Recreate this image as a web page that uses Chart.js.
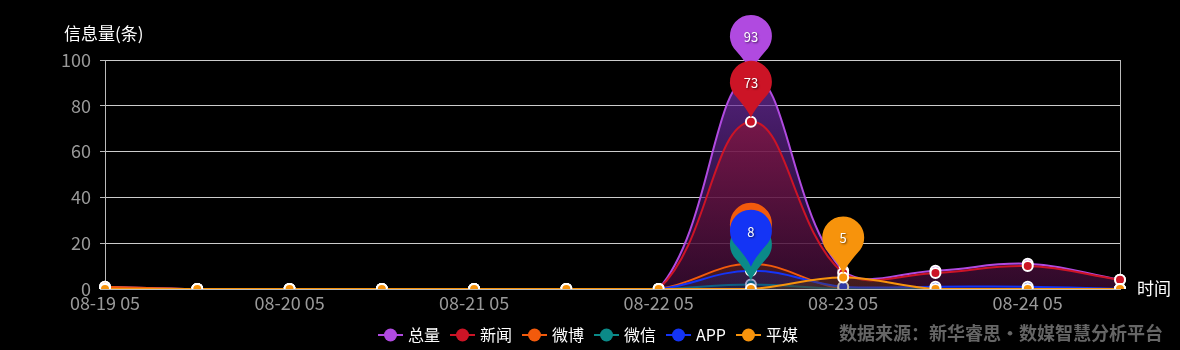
<!DOCTYPE html>
<html><head><meta charset="utf-8">
<script src="https://cdn.jsdelivr.net/npm/chart.js@4/dist/chart.umd.min.js"></script>
<style>html,body{margin:0;padding:0;background:#000;}#wrap{width:1180px;height:350px;position:relative;}</style>
</head><body><div id="wrap"><canvas id="c" width="1180" height="350"></canvas></div>
<script>
const categories = ['08-19 05','08-19 17','08-20 05','08-20 17','08-21 05','08-21 17','08-22 05','08-22 17','08-23 05','08-23 17','08-24 05','08-24 17'];
const seriesNames = ['总量','新闻','微博','微信','APP','平媒'];
const totalValues  = [1,0,0,0,0,0,0,93,8,8,11,4];
const newsValues   = [0,0,0,0,0,0,0,73,7,7,10,4];
const weiboValues  = [1,0,0,0,0,0,0,11,0,0,0,0];
const wechatValues = [0,0,0,0,0,0,0,2,0,0,0,0];
const appValues    = [0,0,0,0,0,0,0,8,1,1,1,0];
const pingmeiValues= [0,0,0,0,0,0,0,0,5,0,0,0];
const yTicks = [0,20,40,60,80,100];
const yTitle = '信息量(条)';
const xTitle = '时间';
const sourceText = '数据来源：新华睿思·数媒智慧分析平台';

const colors = ['#b04ae0','#cc1426','#f25a0c','#0b8a88','#1434f5','#f7930c'];
const allValues = [totalValues,newsValues,weiboValues,wechatValues,appValues,pingmeiValues];
const FONT = '"Noto Sans CJK SC","Noto Sans",sans-serif';

function grad(ctx, area, stops){
  const g = ctx.createLinearGradient(0, area.top, 0, area.bottom);
  stops.forEach(s=>g.addColorStop(s[0], s[1]));
  return g;
}
const fills = [
  [[0,'rgba(120,50,175,0.75)'],[1,'rgba(50,15,80,0.55)']],
  [[0,'rgba(160,25,70,0.8)'],[1,'rgba(60,10,40,0.6)']],
  [[0,'rgba(200,80,10,0.5)'],[1,'rgba(90,40,10,0.4)']],
  [[0,'rgba(10,120,120,0.4)'],[1,'rgba(10,60,60,0.3)']],
  [[0,'rgba(30,50,220,0.5)'],[1,'rgba(20,30,120,0.4)']],
  [[0,'rgba(220,130,10,0.45)'],[1,'rgba(100,60,10,0.35)']]
];

const datasets = seriesNames.map((n,i)=>({
  label:n, data: allValues[i],
  borderColor: colors[i], borderWidth: 2,
  backgroundColor: (c)=>{const a=c.chart.chartArea; if(!a) return 'transparent'; return grad(c.chart.ctx,a,fills[i]);},
  fill: 'origin', tension: 0.4,
  pointRadius: 5, pointBorderWidth: 2, pointBorderColor:'#fff', pointBackgroundColor: colors[i],
  order: 6-i
}));

function drawPin(ctx, x, y, color, text){
  const r = 21, cy = y - 40, tipY = y - 4;
  const d = tipY - cy;
  const th = Math.acos(r/d);
  ctx.save();
  ctx.beginPath();
  ctx.arc(x, cy, r, Math.PI/2 + th, Math.PI/2 - th, false);
  const rx = x + r*Math.cos(Math.PI/2 - th), ry = cy + r*Math.sin(Math.PI/2 - th);
  ctx.quadraticCurveTo(x + 3, tipY - 8, x, tipY);
  ctx.quadraticCurveTo(x - 3, tipY - 8, x - (rx - x), ry);
  ctx.closePath();
  ctx.fillStyle = color; ctx.fill();
  ctx.shadowColor = 'rgba(0,0,0,0.6)'; ctx.shadowBlur = 2; ctx.shadowOffsetX=1; ctx.shadowOffsetY=1;
  ctx.fillStyle = '#fff'; ctx.font = '13px ' + FONT;
  ctx.textAlign='center'; ctx.textBaseline='middle';
  ctx.fillText(text, x, cy+1);
  ctx.restore();
}

const extras = {
  id:'extras',
  afterDatasetsDraw(chart){
    const ctx = chart.ctx, xs = chart.scales.x, ys = chart.scales.y;
    allValues.forEach((vals,i)=>{
      let mi = 0; vals.forEach((v,k)=>{ if(v>vals[mi]) mi=k; });
      drawPin(ctx, xs.getPixelForValue(mi), ys.getPixelForValue(vals[mi]), colors[i], String(vals[mi]));
    });
  },
  afterDraw(chart){
    const ctx = chart.ctx, a = chart.chartArea;
    ctx.save();
    ctx.fillStyle = '#fff'; ctx.font = '17px ' + FONT; ctx.textBaseline='middle'; ctx.textAlign='left';
    ctx.fillText(yTitle, 64, 34);
    ctx.font = '17px ' + FONT;
    ctx.fillText(xTitle, a.right + 17, a.bottom);
    let x = 378; const ly = 335;
    ctx.font = '16px ' + FONT;
    seriesNames.forEach((n,i)=>{
      ctx.strokeStyle = colors[i]; ctx.lineWidth = 2;
      ctx.beginPath(); ctx.moveTo(x, ly); ctx.lineTo(x+25, ly); ctx.stroke();
      ctx.fillStyle = colors[i]; ctx.beginPath(); ctx.arc(x+12.5, ly, 6.5, 0, Math.PI*2); ctx.fill();
      ctx.fillStyle = '#fff'; ctx.textAlign='left';
      ctx.fillText(n, x+30, ly);
      x += 30 + ctx.measureText(n).width + 10;
    });
    ctx.fillStyle = '#666'; ctx.font = 'bold 18px ' + FONT; ctx.textAlign='right';
    ctx.fillText(sourceText, 1163, 333);
    ctx.restore();
  }
};

new Chart(document.getElementById('c'), {
  type:'line',
  data:{ labels: categories, datasets },
  options:{
    responsive:false, animation:false, devicePixelRatio:1,
    layout:{ padding:{ top:60, right:60, left:0, bottom:0 } },
    plugins:{ legend:{display:false}, tooltip:{enabled:false} },
    scales:{
      x:{
        offset:false,
        afterFit:(s)=>{ s.height = 61; },
        grid:{ drawTicks:false, color:(c)=> c.index===categories.length-1 ? '#bbb' : 'transparent', lineWidth:1 },
        border:{ color:'#bbb' },
        ticks:{ autoSkip:false, maxRotation:0, padding:3, color:'#999', font:{ size:18, family:FONT } ,
          callback:(v,i)=> i%2===0 ? categories[i] : '' }
      },
      y:{
        min:0, max:100,
        afterFit:(s)=>{ s.width = 105; },
        afterBuildTicks:(s)=>{ s.ticks = yTicks.map(v=>({value:v})); },
        grid:{ color:'#ccc', tickLength:5, tickColor:'#bbb' },
        border:{ color:'#bbb' },
        ticks:{ padding:9, color:'#999', font:{ size:18, family:FONT } }
      }
    }
  },
  plugins:[extras]
});
</script></body></html>
